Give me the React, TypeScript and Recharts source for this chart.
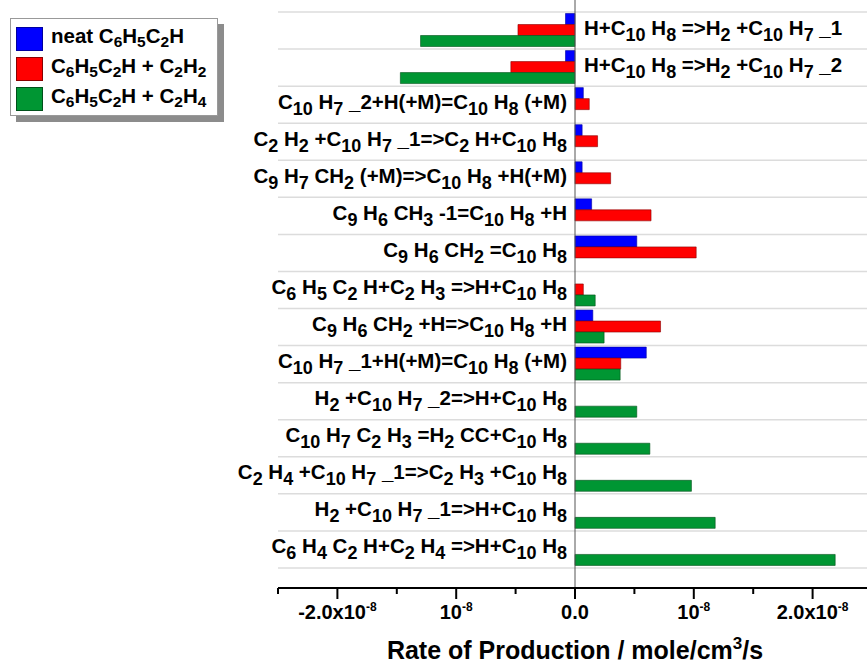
import { BarChart, Bar, XAxis, YAxis, CartesianGrid, ReferenceLine } from 'recharts';

// reaction labels, {..} = subscript
const reactions = [
  'H+C{10} H{8} =>H{2} +C{10} H{7} _1',
  'H+C{10} H{8} =>H{2} +C{10} H{7} _2',
  'C{10} H{7} _2+H(+M)=C{10} H{8} (+M)',
  'C{2} H{2} +C{10} H{7} _1=>C{2} H+C{10} H{8}',
  'C{9} H{7} CH{2} (+M)=>C{10} H{8} +H(+M)',
  'C{9} H{6} CH{3} -1=C{10} H{8} +H',
  'C{9} H{6} CH{2} =C{10} H{8}',
  'C{6} H{5} C{2} H+C{2} H{3} =>H+C{10} H{8}',
  'C{9} H{6} CH{2} +H=>C{10} H{8} +H',
  'C{10} H{7} _1+H(+M)=C{10} H{8} (+M)',
  'H{2} +C{10} H{7} _2=>H+C{10} H{8}',
  'C{10} H{7} C{2} H{3} =H{2} CC+C{10} H{8}',
  'C{2} H{4} +C{10} H{7} _1=>C{2} H{3} +C{10} H{8}',
  'H{2} +C{10} H{7} _1=>H+C{10} H{8}',
  'C{6} H{4} C{2} H+C{2} H{4} =>H+C{10} H{8}',
];

// rate of production, mole/cm3/s
const neat = [-0.08e-8, -0.08e-8, 0.07e-8, 0.06e-8, 0.06e-8, 0.14e-8, 0.52e-8, null, 0.15e-8, 0.6e-8, null, null, null, null, null];
const withC2H2 = [-0.48e-8, -0.54e-8, 0.12e-8, 0.19e-8, 0.3e-8, 0.64e-8, 1.02e-8, 0.07e-8, 0.72e-8, 0.385e-8, null, null, null, null, null];
const withC2H4 = [-1.3e-8, -1.47e-8, null, null, null, null, null, 0.17e-8, 0.245e-8, 0.38e-8, 0.52e-8, 0.63e-8, 0.98e-8, 1.18e-8, 2.19e-8];

const seriesNames = ['neat C{6}H{5}C{2}H', 'C{6}H{5}C{2}H + C{2}H{2}', 'C{6}H{5}C{2}H + C{2}H{4}'];
const seriesColors = ['#0000ff', '#ff0000', '#009633'];
const seriesStrokes = ['#0000a0', '#8a0000', '#00501a'];

const xTicks = [-2.5e-8, -2e-8, -1.5e-8, -1e-8, -0.5e-8, 0, 0.5e-8, 1e-8, 1.5e-8, 2e-8, 2.5e-8];
const xTickLabels = ['', '-2.0x10^{-8}', '', '10^{-8}', '', '0.0', '', '10^{-8}', '', '2.0x10^{-8}', ''];

const data = reactions.map((r, i) => ({ reaction: r, neat: neat[i], c2h2: withC2H2[i], c2h4: withC2H4[i] }));

const FONT = '"Liberation Sans", Arial, sans-serif';
const W = 880;
const H = 666;
const MARGIN = { top: 12, right: 8, left: 270, bottom: 28 };
const YAXIS_W = 8;
const PAD_BOTTOM = 20;
const PLOT_LEFT = MARGIN.left + YAXIS_W;
const PLOT_W = W - PLOT_LEFT - MARGIN.right;
const ZERO_X = PLOT_LEFT + PLOT_W / 2;

// split "a{b}c" style markup into svg tspans, shifted by dy
function richSpans(text: string, open: string, size: number, dy: number) {
  const re = open === '{' ? /\{([^}]*)\}/ : /\^\{([^}]*)\}/;
  const parts = text.split(re);
  return parts.map((p, i) => {
    const special = i % 2 === 1;
    let shift = 0;
    if (special) shift = dy;
    else if (i > 0) shift = -dy;
    return (
      <tspan key={i} dy={shift} fontSize={special ? size : undefined}>
        {p}
      </tspan>
    );
  });
}

function CategoryTick(props: any) {
  const { y, payload, index } = props;
  const row = data[index];
  const vals = [row.neat, row.c2h2, row.c2h4].filter((v) => v != null) as number[];
  const onRight = Math.min(...vals) < 0;
  return (
    <text
      x={onRight ? ZERO_X + 9 : ZERO_X - 8}
      y={y + 4}
      textAnchor={onRight ? 'start' : 'end'}
      fontFamily={FONT}
      fontWeight="bold"
      fontSize={20.5}
      fill="#000"
    >
      {richSpans(payload.value, '{', 18, 6)}
    </text>
  );
}

function XTick(props: any) {
  const { x, y, payload, index } = props;
  const label = xTickLabels[index];
  const major = label !== '';
  return (
    <g>
      <line x1={x} x2={x} y1={y} y2={y + (major ? 11 : 6)} stroke="#000" strokeWidth={2} />
      {major && (
        <text x={x} y={y + 31} textAnchor="middle" fontFamily={FONT} fontWeight="bold" fontSize={20} fill="#000">
          {richSpans(label, '^', 12, -8)}
        </text>
      )}
    </g>
  );
}

function AxisTitle(props: any) {
  const { viewBox } = props;
  return (
    <text
      x={viewBox.x + viewBox.width / 2}
      y={viewBox.y + 71}
      textAnchor="middle"
      fontFamily={FONT}
      fontWeight="bold"
      fontSize={25}
      fill="#000"
    >
      {richSpans('Rate of Production / mole/cm^{3}/s', '^', 17, -10)}
    </text>
  );
}

function htmlRich(text: string) {
  return text.split(/\{([^}]*)\}/).map((p, i) =>
    i % 2 ? (
      <sub key={i} style={{ fontSize: 15.5, verticalAlign: -4 }}>
        {p}
      </sub>
    ) : (
      <span key={i}>{p}</span>
    )
  );
}

function LegendBox() {
  return (
    <div
      style={{
        position: 'absolute',
        left: 10,
        top: 18,
        width: 206,
        height: 96,
        background: '#fff',
        border: '1px solid #999',
        boxShadow: '6px 6px 0 #8c8c8c',
        fontFamily: FONT,
        fontWeight: 'bold',
        fontSize: 20.5,
      }}
    >
      {seriesNames.map((n, i) => (
        <div key={n} style={{ position: 'absolute', left: 5, top: 7 + i * 30, display: 'flex', alignItems: 'center' }}>
          <div
            style={{
              width: 27,
              height: 24,
              background: seriesColors[i],
              border: '1px solid ' + seriesStrokes[i],
              boxSizing: 'border-box',
              marginRight: 8,
            }}
          />
          <div style={{ lineHeight: '20px', whiteSpace: 'nowrap' }}>{htmlRich(n)}</div>
        </div>
      ))}
    </div>
  );
}

export default function App() {
  const rowGrid = ({ offset }: any) => {
    const rowH = (offset.height - PAD_BOTTOM) / reactions.length;
    return Array.from({ length: reactions.length + 1 }, (_, i) => offset.top + i * rowH);
  };

  return (
    <div style={{ position: 'fixed', left: 0, top: 0, width: 867, height: 666, overflow: 'hidden', background: '#fff' }}>
      <BarChart
        width={W}
        height={H}
        data={data}
        layout="vertical"
        margin={MARGIN}
        barCategoryGap={1.5}
        barGap={0}
      >
        <CartesianGrid vertical={false} stroke="#dcdcdc" strokeWidth={1.5} horizontalCoordinatesGenerator={rowGrid} />
        <XAxis
          type="number"
          domain={[-2.5e-8, 2.5e-8]}
          ticks={xTicks}
          interval={0}
          height={50}
          tickSize={0}
          tickMargin={0}
          tickLine={false}
          axisLine={{ stroke: '#000', strokeWidth: 2 }}
          tick={<XTick />}
          label={<AxisTitle />}
        />
        <YAxis
          type="category"
          dataKey="reaction"
          width={YAXIS_W}
          interval={0}
          axisLine={false}
          tickLine={false}
          padding={{ top: 0, bottom: PAD_BOTTOM }}
          tick={<CategoryTick />}
        />
        <ReferenceLine
          x={0}
          stroke="#555"
          shape={(p: any) => <line x1={p.x1} x2={p.x2} y1={p.y1} y2={p.y2 - PAD_BOTTOM} stroke="#555" strokeWidth={1} />}
        />
        <Bar dataKey="neat" fill={seriesColors[0]} stroke={seriesStrokes[0]} strokeWidth={0.6} isAnimationActive={false} />
        <Bar dataKey="c2h2" fill={seriesColors[1]} stroke={seriesStrokes[1]} strokeWidth={0.6} isAnimationActive={false} />
        <Bar dataKey="c2h4" fill={seriesColors[2]} stroke={seriesStrokes[2]} strokeWidth={0.6} isAnimationActive={false} />
      </BarChart>
      <LegendBox />
    </div>
  );
}
